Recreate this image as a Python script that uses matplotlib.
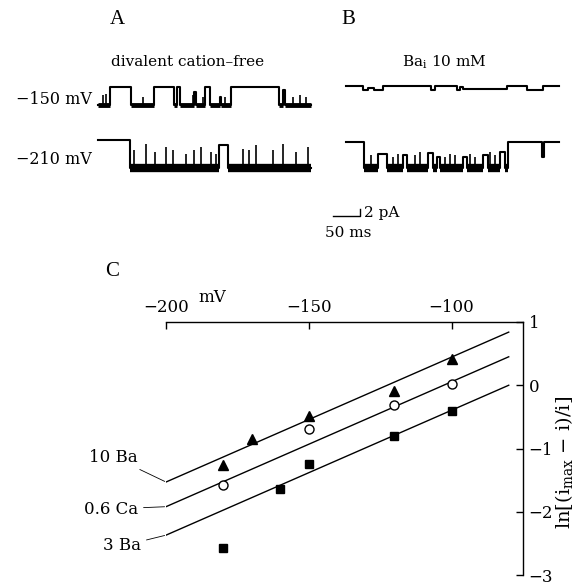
import numpy as np
import matplotlib
matplotlib.use('Agg')
import matplotlib.pyplot as plt

plt.rcParams['font.family'] = ['DejaVu Serif']
plt.rcParams['mathtext.fontset'] = 'dejavuserif'

# ---- single-channel traces (times in ms from trace start, current in pA) ----
a150_t = [0, 22, 61, 103, 141, 146, 152, 178, 182, 198, 207, 226, 228, 246, 335, 343, 346]
a150_i = [-5.4, 0, -5.4, 0, -5.4, 0, -5.4, -1.5, -5.4, 0, -5.4, -3, -5.4, 0, -5.4, -1, -5.4]
a150_spk_t = [9, 15, 83, 176, 181, 194, 226, 235, 343, 361, 374, 385]
a150_spk_i = [-2.5, -2, -3, -2.5, -3.5, -3, -3.5, -3, -1.5, -3, -2.5, -3]

a210_t = [0, 59, 224, 241]
a210_i = [0, -8.4, -1.5, -8.4]
a210_spk_t = [67, 89, 106, 126, 138, 163, 178, 191, 209, 219, 268, 280, 293, 323, 342, 367, 388]
a210_spk_i = [-3, -1, -3.5, -2, -3, -4, -3, -2, -3.5, -4, -2.5, -3, -1.5, -3, -1, -3.5, -2]

b150_t = [0, 31, 40, 52, 69, 157, 165, 206, 211, 217, 298, 335, 365]
b150_i = [0, -1.2, -0.6, -1.3, 0, -1.3, 0, -1.2, -0.3, -1.0, 0, -1.2, 0]
b150_spk_t = []
b150_spk_i = []

b210_t = [0, 33, 59, 76, 106, 113, 152, 161, 168, 174, 217, 224, 254, 263, 285, 294, 300, 363, 366]
b210_i = [0, -7.8, -3.5, -7.8, -4, -7.8, -3.2, -7.8, -4.5, -7.8, -4.5, -7.8, -3.8, -7.8, -3, -7.8, 0, -4.5, 0]
b210_spk_t = [46, 87, 96, 128, 137, 183, 193, 202, 230, 239, 267, 276]
b210_spk_i = [-4, -4.5, -3.5, -4, -3, -4.5, -3.5, -4, -3.5, -4.5, -3, -4]

trace_end = 394
scale_ms = 50
scale_pA = 2

# ---- panel C: ln[(imax - i)/i] vs voltage ----
v_ba10 = [-180, -170, -150, -120, -100]
y_ba10 = [-1.26, -0.85, -0.48, -0.09, 0.42]
v_ca06 = [-180, -150, -120, -100]
y_ca06 = [-1.58, -0.69, -0.32, 0.02]
v_ba3 = [-180, -160, -150, -120, -100]
y_ba3 = [-2.58, -1.64, -1.24, -0.80, -0.40]

fit_v = [-200, -80]
fit_ba10 = [-1.53, 0.84]
fit_ca06 = [-1.92, 0.45]
fit_ba3 = [-2.37, 0.00]

W, H = 578, 584
fig = plt.figure(figsize=(W / 100, H / 100), dpi=100)


def rect(l, t, r, b):
    return [l / W, 1 - b / H, (r - l) / W, (b - t) / H]


def fxy(x, y):
    return x / W, 1 - y / H


# ---- traces ----
ax_t = fig.add_axes(rect(90, 70, 565, 240))
ax_t.set_xlim(0, 475 * 50 / 27)
ax_t.set_ylim(-(240 - 87) / 3.333, (87 - 70) / 3.333)
ax_t.axis('off')


def draw_trace(t0, y0, times, levels, spk_t, spk_i, band_lw, lw=1.5):
    t = np.array(times + [trace_end], dtype=float) + t0
    lv = np.array(levels + [levels[-1]], dtype=float) + y0
    ax_t.step(t, lv, where='post', color='k', lw=lw)
    low = min(levels)
    for k in range(len(times)):
        if levels[k] == low and low < -2:
            ax_t.hlines(low + y0, t[k], t[k + 1], color='k', lw=band_lw)
    if spk_t:
        ax_t.vlines(np.array(spk_t) + t0, low + y0, np.array(spk_i) + y0, color='k', lw=1.2)


tA, tB = 15, 474
draw_trace(tA, 0, a150_t, a150_i, a150_spk_t, a150_spk_i, 3.5)
draw_trace(tA, -16, a210_t, a210_i, a210_spk_t, a210_spk_i, 6)
draw_trace(tB, 0.3, b150_t, b150_i, b150_spk_t, b150_spk_i, 1.5)
draw_trace(tB, -16.5, b210_t, b210_i, b210_spk_t, b210_spk_i, 6)

sx, sy = 450, -38.7
ax_t.plot([sx, sx + scale_ms, sx + scale_ms], [sy, sy, sy + scale_pA], color='k', lw=1)

fig.text(*fxy(364, 213), '2 pA', ha='left', va='center', fontsize=11)
fig.text(*fxy(348, 233), '50 ms', ha='center', va='center', fontsize=11)

fig.text(*fxy(117, 20), 'A', ha='center', va='center', fontsize=15, family='Liberation Serif')
fig.text(*fxy(348, 20), 'B', ha='center', va='center', fontsize=15, family='Liberation Serif')
fig.text(*fxy(111, 62), 'divalent cation\u2013free', ha='left', va='center', fontsize=11)
fig.text(*fxy(402, 62), r'Ba$_{\rm i}$ 10 mM', ha='left', va='center', fontsize=11)
fig.text(*fxy(92, 100), '\u2212150 mV', ha='right', va='center', fontsize=11.5)
fig.text(*fxy(92, 160), '\u2212210 mV', ha='right', va='center', fontsize=11.5)

# ---- panel C ----
ax = fig.add_axes(rect(166, 322, 523, 575))
ax.set_xlim(-200, -75)
ax.set_ylim(-3, 1)
for s in ['left', 'bottom']:
    ax.spines[s].set_visible(False)
for s in ['top', 'right']:
    ax.spines[s].set_linewidth(1.0)
ax.xaxis.tick_top()
ax.yaxis.tick_right()
ax.set_xticks([-200, -150, -100])
ax.set_xticklabels(['\u2212200', '\u2212150', '\u2212100'])
ax.set_yticks([1, 0, -1, -2, -3])
ax.set_yticklabels(['1', '0', '\u22121', '\u22122', '\u22123'])
ax.tick_params(direction='in', length=5, width=1, labelsize=12, pad=4)

ax.plot(fit_v, fit_ba10, color='k', lw=1)
ax.plot(fit_v, fit_ca06, color='k', lw=1)
ax.plot(fit_v, fit_ba3, color='k', lw=1)
ax.plot(v_ba10, y_ba10, '^', color='k', ms=7.5, clip_on=False)
ax.plot(v_ca06, y_ca06, 'o', mfc='white', mec='k', mew=1, ms=6.5, clip_on=False)
ax.plot(v_ba3, y_ba3, 's', color='k', ms=5.5, clip_on=False)

for lab, yv, pos in [('10 Ba', fit_ba10[0], (138, 457)),
                     ('0.6 Ca', fit_ca06[0], (138, 509)),
                     ('3 Ba', fit_ba3[0], (141, 546))]:
    ax.annotate(lab, xy=(fit_v[0], yv), xycoords='data',
                xytext=fxy(*pos), textcoords='figure fraction',
                ha='right', va='center', fontsize=12,
                arrowprops=dict(arrowstyle='-', lw=0.6, color='k', shrinkA=2, shrinkB=1))

fig.text(*fxy(212, 297), 'mV', ha='center', va='center', fontsize=12)
fig.text(*fxy(112, 272), 'C', ha='center', va='center', fontsize=15, family='Liberation Serif')
fig.text(*fxy(564, 462), 'ln[(i$_{\\rm max}$ \u2212 i)/i]',
         rotation=90, ha='center', va='center', fontsize=14)

fig.savefig('out.png', dpi=100)
